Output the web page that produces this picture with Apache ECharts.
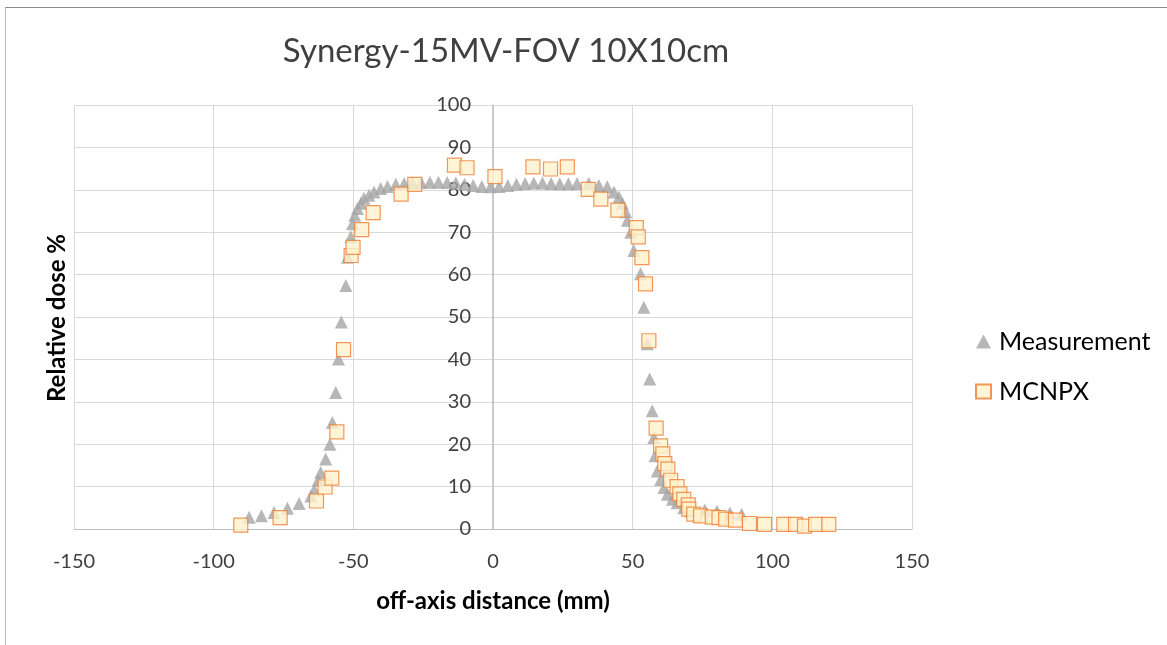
<!DOCTYPE html>
<html>
<head>
<meta charset="utf-8">
<title>Synergy-15MV-FOV 10X10cm</title>
<script src="https://cdn.jsdelivr.net/npm/echarts@6/dist/echarts.min.js"></script>
<style>
  html, body { margin: 0; padding: 0; background: #fff; }
  #frame { position: absolute; left: 5px; top: 7px; width: 1170px; height: 650px;
           border-top: 1px solid #8c8c8c; border-left: 1px solid #bfbfbf; }
  #chart { position: absolute; left: 0; top: 0; width: 1167px; height: 645px; }
</style>
</head>
<body>
<div id="frame"></div>
<div id="chart"></div>
<script>
// 测量数据 (mm, %)
const measX = [-87.3, -82.9, -78.4, -73.6, -69.4, -65.2, -64.0, -62.6, -61.7, -59.9, -58.4, -57.5,
  -56.3, -55.3, -54.3, -52.7, -52.1, -50.9, -50.3, -49.5, -48.5, -47.3, -46.2, -44.4, -42.6,
  -40.2, -37.8, -34.8, -31.8, -28.8, -25.7, -22.6, -19.5, -16.4, -13.3, -10.2, -7.1, -4.0,
  -0.9, 2.2, 5.3, 8.4, 11.5, 14.6, 17.7, 20.8, 23.9, 27.0, 30.1, 34.3, 37.9, 40.9, 43.3,
  45.1, 46.3, 47.5, 48.1, 49.3, 50.4, 52.8, 54.0, 55.2, 56.1, 57.0, 57.6, 58.0, 58.8, 60.0,
  61.2, 62.4, 64.2, 65.9, 68.3, 70.7, 75.8, 80.2, 84.8, 89.0];
const measY = [2.8, 3.1, 3.9, 4.9, 6.0, 7.8, 9.2, 11.5, 13.3, 16.5, 20.0, 25.1,
  32.2, 40.1, 48.8, 57.4, 64.1, 68.9, 72.0, 74.0, 75.6, 76.8, 78.0, 78.7, 79.5,
  80.3, 80.8, 81.3, 81.5, 81.6, 81.7, 81.8, 81.8, 81.7, 81.6, 81.3, 81.0, 80.8,
  80.7, 80.8, 81.0, 81.3, 81.5, 81.6, 81.6, 81.5, 81.4, 81.4, 81.5, 81.5, 81.0, 80.7, 79.5,
  78.3, 76.8, 74.8, 72.8, 70.0, 65.7, 60.2, 52.3, 43.7, 35.4, 27.9, 21.6, 17.3, 13.7, 11.7,
  9.8, 8.2, 7.0, 6.2, 5.0, 4.3, 4.5, 4.2, 3.8, 3.5];

// MCNPX 模拟数据
const mcnpxX = [-90.3, -76.2, -63.2, -60.1, -57.7, -55.9, -53.5, -50.8, -50.1, -47.0, -42.9,
  -32.9, -28.0, -13.8, -9.3, 0.7, 14.3, 20.6, 26.6, 34.1, 38.6, 44.7, 51.3, 52.0, 53.3,
  54.6, 55.8, 58.4, 60.0, 60.8, 61.5, 62.6, 63.6, 65.9, 66.9, 68.3, 69.9, 70.1, 71.9,
  74.3, 78.5, 80.9, 83.3, 86.8, 91.8, 97.2, 104.1, 108.3, 111.5, 115.5, 120.2];
const mcnpxY = [0.9, 2.7, 6.6, 9.9, 12.0, 22.9, 42.3, 64.5, 66.4, 70.6, 74.6,
  79.0, 81.3, 85.8, 85.2, 83.1, 85.4, 84.9, 85.4, 80.1, 77.8, 75.2, 71.1, 68.9, 64.0,
  57.8, 44.4, 23.8, 19.6, 17.7, 15.4, 14.1, 11.5, 10.0, 8.3, 7.0, 5.7, 4.7, 3.5,
  3.1, 2.8, 2.7, 2.3, 2.1, 1.3, 1.1, 1.1, 1.1, 0.7, 1.1, 1.1];

const seriesNames = ["Measurement", "MCNPX"];
const xTicks = { min: -150, max: 150, interval: 50 };
const yTicks = { min: 0, max: 100, interval: 10 };

const font = "Lato, 'Open Sans', sans-serif";

function pairs(xs, ys) {
  return xs.map((x, i) => [x, ys[i]]);
}

// 初始化图表
const chartDom = document.getElementById("chart");
const myChart = echarts.init(chartDom);

const gridLeft = 74, gridRight = 255;
// 纵轴放在 x = 0 处（图区正中）
const plotWidth = chartDom.clientWidth - gridLeft - gridRight;
const yAxisOffset = -plotWidth * (0 - xTicks.min) / (xTicks.max - xTicks.min);

const option = {
  animation: false,
  title: {
    text: "Synergy-15MV-FOV 10X10cm",
    left: 501, top: 30, textAlign: "center",
    textStyle: { fontFamily: font, fontSize: 33, fontWeight: "normal", color: "#404040" }
  },
  legend: {
    orient: "vertical",
    left: 970, top: 324,
    itemGap: 25,
    itemWidth: 15, itemHeight: 14,
    textStyle: { fontFamily: font, fontSize: 25, color: "#000", padding: [0, 0, 0, 3] },
    data: [
      { name: seriesNames[0], icon: "triangle" },
      { name: seriesNames[1], icon: "rect" }
    ]
  },
  grid: { left: gridLeft, right: gridRight, top: 105, bottom: 116 },
  xAxis: {
    type: "value",
    min: xTicks.min, max: xTicks.max, interval: xTicks.interval,
    name: "off-axis distance (mm)",
    nameLocation: "middle", nameGap: 60,
    nameTextStyle: { fontFamily: font, fontSize: 24, fontWeight: "bold", color: "#000" },
    axisLine: { onZero: false, lineStyle: { color: "#bfbfbf", width: 1 } },
    axisTick: { show: false },
    axisLabel: { fontFamily: font, fontSize: 20, color: "#404040", margin: 23 },
    splitLine: { lineStyle: { color: "#d9d9d9", width: 1 } }
  },
  yAxis: {
    type: "value",
    min: yTicks.min, max: yTicks.max, interval: yTicks.interval,
    offset: yAxisOffset,
    axisLine: { show: true, onZero: false, lineStyle: { color: "#bfbfbf", width: 1.5 } },
    axisTick: { show: false },
    axisLabel: { fontFamily: font, fontSize: 20, color: "#404040", margin: 22 },
    splitLine: { lineStyle: { color: "#d9d9d9", width: 1 } }
  },
  series: [
    {
      name: seriesNames[0],
      type: "scatter",
      symbol: "triangle",
      symbolSize: 13,
      itemStyle: { color: "#a5a5a5" },
      data: pairs(measX, measY),
      z: 2
    },
    {
      name: seriesNames[1],
      type: "scatter",
      symbol: "rect",
      symbolSize: 14,
      itemStyle: { color: "#fff2cc", borderColor: "#ed7d31", borderWidth: 1.2 },
      data: pairs(mcnpxX, mcnpxY),
      z: 3
    }
  ],
  // 纵轴标题
  graphic: [
    {
      type: "text",
      x: 57, y: 318,
      rotation: Math.PI / 2,
      style: {
        text: "Relative dose %",
        font: "bold 24px " + font,
        fill: "#000",
        textAlign: "center",
        textVerticalAlign: "middle"
      }
    }
  ]
};

myChart.setOption(option);
</script>
</body>
</html>
